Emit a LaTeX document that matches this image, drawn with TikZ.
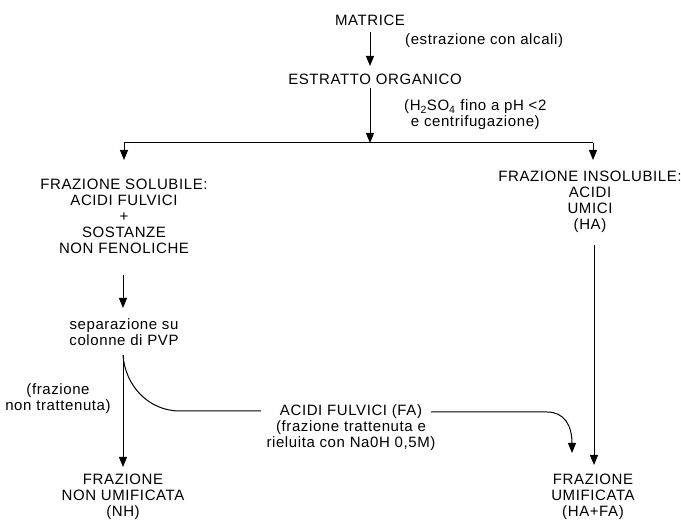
\documentclass[tikz,border=0pt]{standalone}
\usepackage{fontspec}
\setmainfont{Liberation Sans}[LetterSpace=4]
\usetikzlibrary{arrows.meta}
\begin{document}
\begin{tikzpicture}[x=1pt,y=-1pt,
  txt/.style={inner sep=0pt,align=center,font=\fontsize{15}{16}\selectfont},
  conn/.style={line width=1pt},
  arr/.style={conn,-{Triangle[length=10pt,width=8pt]}}]
\useasboundingbox (0,0) rectangle (681,521);
% nodes
\node[txt] (mat) at (370,20) {MATRICE};
\node[txt,anchor=west] (lab1) at (405,41) {(estrazione con alcali)};
\node[txt,anchor=west] (lab2) at (404,115) {(H\textsubscript{2}SO\textsubscript{4} fino a pH <2\\e centrifugazione)};
\node[txt] (est) at (375,79) {ESTRATTO ORGANICO};
\node[txt] (sol) at (124,216.5) {FRAZIONE SOLUBILE:\\ACIDI FULVICI\\+\\SOSTANZE\\NON FENOLICHE};
\node[txt] (insol) at (590,201.5) {FRAZIONE INSOLUBILE:\\ACIDI\\UMICI\\(HA)};
\node[txt] (sep) at (124,332.5) {separazione su\\colonne di PVP};
\node[txt] (lab3) at (58,399) {(frazione\\non trattenuta)};
\node[txt] (fa) at (351,428) {ACIDI FULVICI (FA)\\(frazione trattenuta e\\rieluita con Na0H 0,5M)};
\node[txt] (nh) at (123,497) {FRAZIONE\\NON UMIFICATA\\(NH)};
\node[txt] (hf) at (593,497) {FRAZIONE\\UMIFICATA\\(HA+FA)};
% coordinates
\coordinate (br) at (370,143);
\coordinate (L) at (124,143);
\coordinate (R) at (593,143);
\coordinate (s1) at (123,275);
\coordinate (s2) at (123,355);
\coordinate (c1) at (180,411);
\coordinate (c2) at (261,411);
\coordinate (f1) at (431,412);
\coordinate (f2) at (547,412);
\coordinate (r1) at (594,245);
% connectors
\draw[arr] (370,32) -- (370,66);
\draw[arr] (370,88) -- (br);
\draw[conn] (L) -- (R);
\draw[arr] (L) -- (124,160);
\draw[arr] (R) -- (593,160);
\draw[arr] (s1) -- (123,308);
\draw[arr] (s2) -- (123,467);
\draw[conn] (s2) .. controls (125,385) and (148,411) .. (c1) -- (c2);
\draw[arr] (f1) -- (f2) .. controls (564,412) and (572,425) .. (572,453);
\draw[arr] (r1) -- (594,465);
\end{tikzpicture}
\end{document}
